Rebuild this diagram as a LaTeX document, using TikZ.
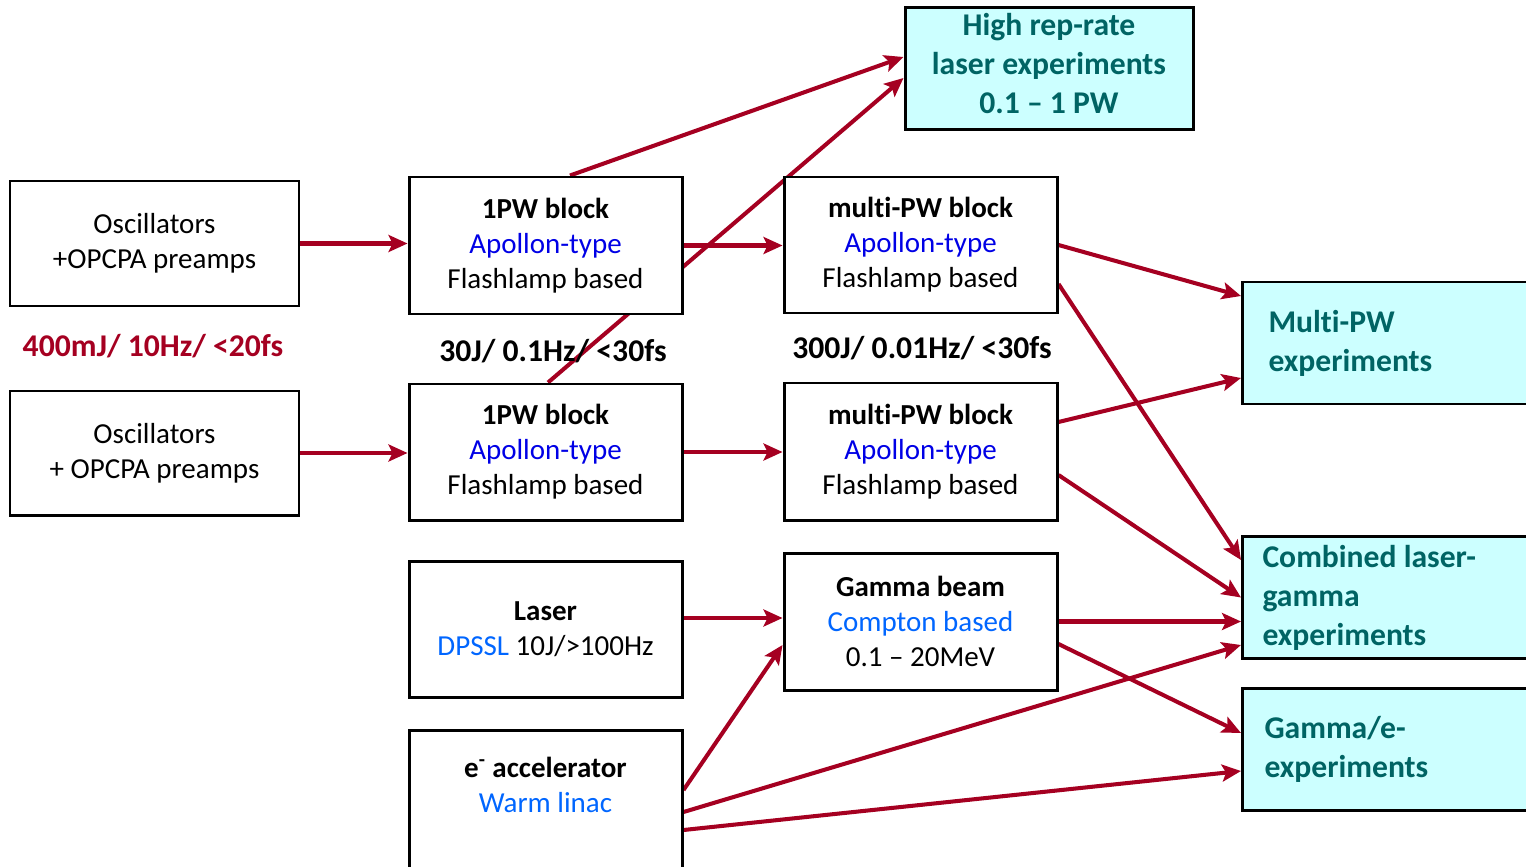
\documentclass[tikz,border=0pt]{standalone}
\usepackage{fontspec}
\setmainfont{Carlito}[Ligatures=NoCommon]
\usetikzlibrary{arrows.meta,backgrounds}

\definecolor{arrowred}{RGB}{165,0,33}
\definecolor{apollon}{RGB}{0,0,230}
\definecolor{dpssl}{RGB}{0,102,255}
\definecolor{tealtext}{RGB}{0,100,100}
\definecolor{expfill}{RGB}{204,255,255}

\begin{document}
\begin{tikzpicture}[
    block/.style={rectangle, draw, line width=1.7pt, fill=white, minimum width=5.46cm, minimum height=2.74cm, align=center, font=\fontsize{16.5}{19.9}\selectfont},
    expbox/.style={rectangle, draw, line width=1.7pt, fill=expfill, minimum height=2.44cm, text=tealtext, font=\bfseries\fontsize{18}{22.2}\selectfont},
    spec/.style={font=\bfseries\fontsize{18}{22}\selectfont},
    beam/.style={-{Stealth[length=0.38cm,width=0.34cm,inset=0.08cm]}, line width=2.3pt, arrowred}]

\useasboundingbox (0,0) rectangle (30.52,-17.32);

% Front ends
\node[block, minimum width=5.78cm, minimum height=2.5cm] (osc1) at (3.09,-4.87) {Oscillators\\+OPCPA preamps};
\node[block, minimum width=5.78cm, minimum height=2.48cm] (osc2) at (3.09,-9.06) {Oscillators\\+ OPCPA preamps};

% Amplifier blocks
\node[block] (pwa) at (10.91,-4.91) {\textbf{1PW block}\\{\color{apollon}Apollon-type}\\Flashlamp based};
\node[block, minimum height=2.72cm] (pwb) at (10.91,-9.04) {\textbf{1PW block}\\{\color{apollon}Apollon-type}\\Flashlamp based};
\node[block, minimum height=2.72cm] (mpwa) at (18.41,-4.9) {\textbf{multi-PW block}\\{\color{apollon}Apollon-type}\\Flashlamp based};
\node[block] (mpwb) at (18.41,-9.03) {\textbf{multi-PW block}\\{\color{apollon}Apollon-type}\\Flashlamp based};

% Gamma source
\node[block, minimum height=2.72cm] (laser) at (10.91,-12.58) {\textbf{Laser}\\{\color{dpssl}DPSSL} 10J/>100Hz};
\node[block] (gamma) at (18.41,-12.43) {\textbf{Gamma beam}\\{\color{dpssl}Compton based}\\0.1 -- 20MeV};
\node[block, minimum height=2.88cm] (eacc) at (10.91,-16.04) {\textbf{e\textsuperscript{-} accelerator}\\{\color{dpssl}Warm linac}\\\mbox{}};

% Specs
\node[spec, text=arrowred] (spec1) at (3.06,-6.92) {400mJ/ 10Hz/ <20fs};
\node[spec] (spec2) at (11.06,-7.02) {30J/ 0.1Hz/ <30fs};
\node[spec] (spec3) at (18.44,-6.96) {300J/ 0.01Hz/ <30fs};

% Experiments
\node[expbox, minimum width=5.76cm, minimum height=2.42cm, align=center, text depth=0.2cm] (highrep) at (20.98,-1.37) {High rep-rate\\laser experiments\\0.1 -- 1 PW};
\node[expbox, anchor=west, text width=5.2cm, inner xsep=0.52cm, align=flush left] (multiexp) at (24.82,-6.86) {Multi-PW\\experiments};
\node[expbox, anchor=west, text width=5.4cm, inner xsep=0.4cm, align=flush left] (combexp) at (24.82,-11.95) {Combined laser-\\gamma\\experiments};
\node[expbox, anchor=west, text width=5.4cm, inner xsep=0.44cm, align=flush left] (gammaexp) at (24.82,-14.99) {Gamma/e-\\experiments};

% Beam lines
\begin{scope}[on background layer]
\draw[beam] (osc1.east) -- (osc1.east -| pwa.west);
\draw[beam] (osc2.east) -- (osc2.east -| pwb.west);
\draw[beam] (pwa.east) -- (pwa.east -| mpwa.west);
\draw[beam] (pwb.east) -- (pwb.east -| mpwb.west);
\draw[beam] ([xshift=0.49cm]pwa.north) -- ([yshift=0.23cm]highrep.west);
\draw[beam] ([xshift=0.05cm]pwb.north) -- ([yshift=-0.19cm]highrep.west);
\draw[beam] (mpwa.east) -- ([yshift=0.94cm]multiexp.west);
\draw[beam] ([yshift=-0.78cm]mpwa.east) -- ([yshift=0.75cm]combexp.west);
\draw[beam] ([yshift=0.59cm]mpwb.east) -- ([yshift=-0.7cm]multiexp.west);
\draw[beam] ([yshift=-0.47cm]mpwb.east) -- (combexp.west);
\draw[beam] ([yshift=0.22cm]laser.east) -- ([yshift=0.22cm]laser.east -| gamma.west);
\draw[beam] ([yshift=0.24cm]eacc.east) -- ([yshift=-0.47cm]gamma.west);
\draw[beam] (gamma.east) -- (gamma.east -| combexp.west);
\draw[beam] ([yshift=-0.45cm]gamma.east) -- ([yshift=0.33cm]gammaexp.west);
\draw[beam] ([yshift=-0.2cm]eacc.east) -- ([yshift=-0.95cm]combexp.west);
\draw[beam] ([yshift=-0.56cm]eacc.east) -- ([yshift=-0.43cm]gammaexp.west);
\end{scope}

\end{tikzpicture}
\end{document}
